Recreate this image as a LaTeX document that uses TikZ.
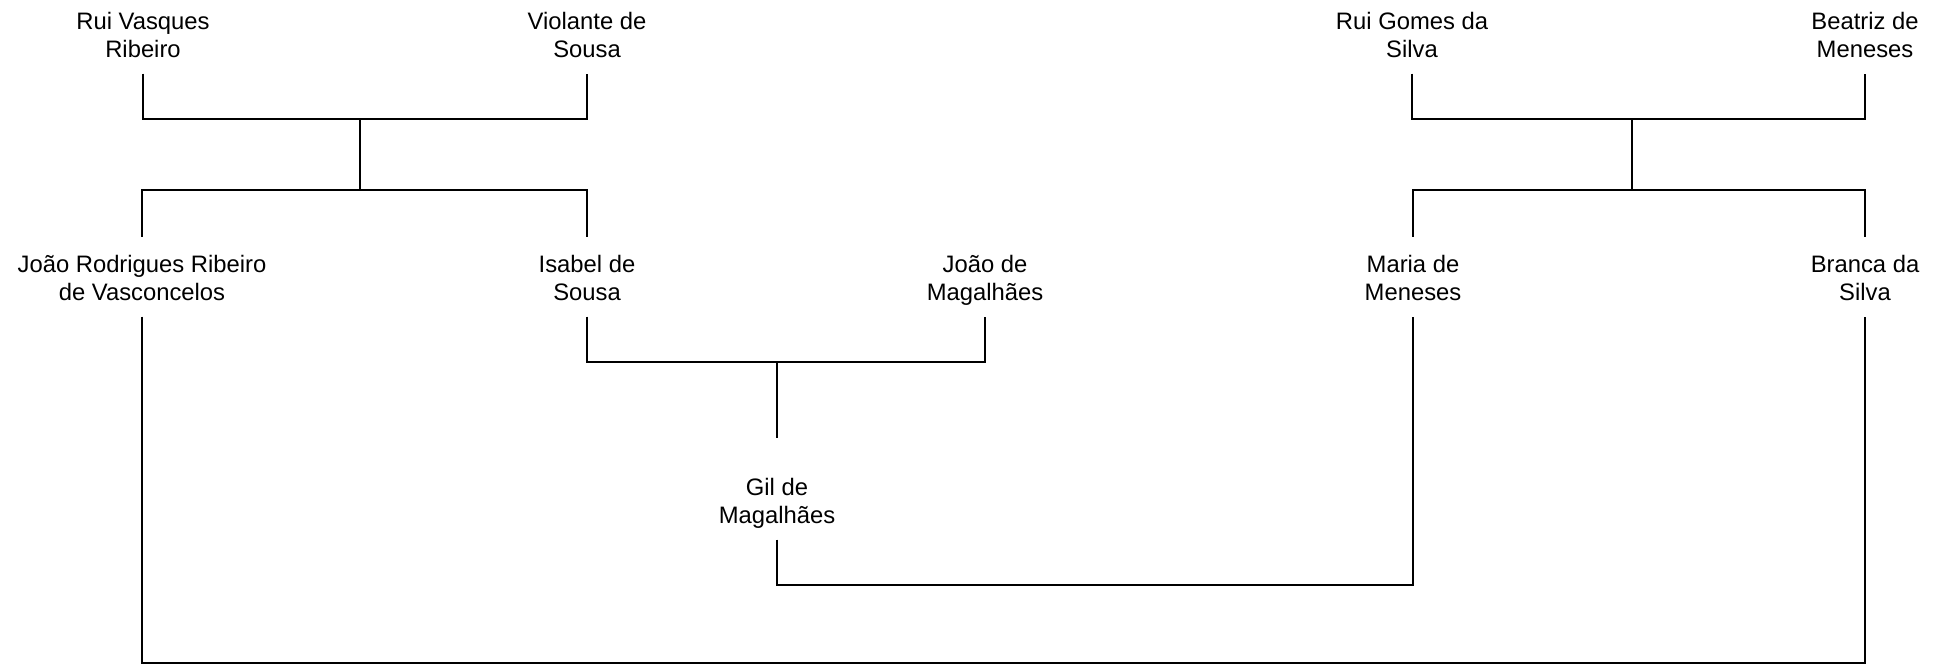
\documentclass[tikz,border=0pt]{standalone}
\usepackage{fontspec}
\setmainfont{Liberation Sans}
\usepackage{tikz}
\usetikzlibrary{calc}

\begin{document}
\begin{tikzpicture}[x=1pt,y=-1pt]
\tikzset{person/.style={align=center,inner xsep=2pt,inner ysep=8pt,text height=54pt,text depth=8pt,font=\fontsize{23.8}{28}\selectfont}}
\tikzset{every path/.style={line width=1.2pt}}
\useasboundingbox (0,0) rectangle (1934,665);
\node (1) at (143,34) [person] {Rui Vasques\\Ribeiro};
\node (2) at (587,34) [person] {Violante de\\Sousa};
\node (3) at (1412,34) [person] {Rui Gomes da\\Silva};
\node (4) at (1865,34) [person] {Beatriz de\\Meneses};
\node (5) at (142,277) [person] {João Rodrigues Ribeiro\\de Vasconcelos};
\node (6) at (587,277) [person] {Isabel de\\Sousa};
\node (7) at (985,277) [person] {João de\\Magalhães};
\node (8) at (1413,277) [person] {Maria de\\Meneses};
\node (9) at (1865,277) [person] {Branca da\\Silva};
\node (10) at (777,500) [person] {Gil de\\Magalhães};

\coordinate (a) at (360,119);
\coordinate (b) at (360,190);
\coordinate (c) at (1632,119);
\coordinate (d) at (1632,190);
\coordinate (e) at (777,362);
\coordinate (f) at (1100,585);
\coordinate (g) at (1000,663);
\coordinate (h) at ($(10.north)+(0,-22)$);

\draw (1.south) |- (a) -| (2.south);
\draw (a) -- (b) -| (5.north);
\draw (b) -| (6.north);
\draw (3.south) |- (c) -| (4.south);
\draw (c) -- (d) -| (8.north);
\draw (d) -| (9.north);
\draw (6.south) |- (e) -| (7.south);
\draw (e) -- (h);
\draw (10.south) |- (f) -| (8.south);
\draw (5.south) |- (g) -| (9.south);
\end{tikzpicture}
\end{document}
